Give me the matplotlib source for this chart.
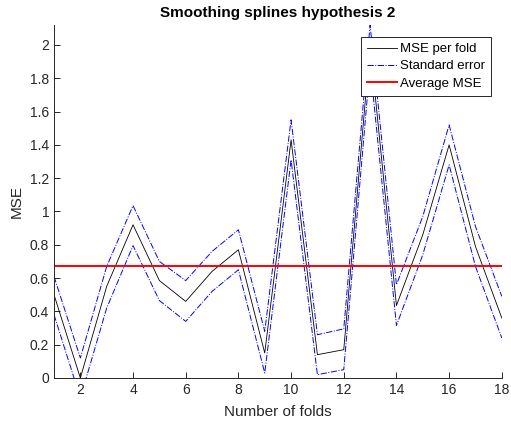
import numpy as np
import matplotlib
matplotlib.use("Agg")
import matplotlib.pyplot as plt

plt.rcParams['font.family'] = ['Liberation Sans', 'DejaVu Sans']

# Values
folds = np.arange(1, 19)
mse = [0.50, 0.00, 0.55, 0.92, 0.585, 0.46, 0.64, 0.77, 0.15,
       1.43, 0.14, 0.17, 2.00, 0.435, 0.86, 1.40, 0.79, 0.36]
upper = [0.61, 0.12, 0.67, 1.035, 0.70, 0.585, 0.76, 0.89, 0.28,
         1.55, 0.26, 0.295, 2.12, 0.56, 0.97, 1.52, 0.91, 0.49]
lower = [0.38, -0.12, 0.42, 0.795, 0.465, 0.34, 0.52, 0.65, 0.03,
         1.31, 0.02, 0.05, 1.88, 0.315, 0.74, 1.28, 0.67, 0.24]
avg_mse = 0.675

xticks = list(range(2, 19, 2))
yticks = [0, 0.2, 0.4, 0.6, 0.8, 1, 1.2, 1.4, 1.6, 1.8, 2]
ytick_labels = ["0", "0.2", "0.4", "0.6", "0.8", "1", "1.2", "1.4", "1.6", "1.8", "2"]

fig = plt.figure(figsize=(5.11, 4.23), dpi=100)
ax = fig.add_axes([0.1057, 0.1064, 0.8763, 0.8346])

ax.plot(folds, mse, color="black", linewidth=0.6, label="MSE per fold")
ax.plot(folds, upper, color="blue", linestyle="-.", linewidth=0.7, label="Standard error")
ax.plot(folds, lower, color="blue", linestyle="-.", linewidth=0.7)
ax.axhline(avg_mse, color="red", linewidth=1.4, label="Average MSE")

ax.set_xlim(1, 18)
ax.set_ylim(0, 2.12)
ax.set_xticks(xticks)
ax.set_yticks(yticks)
ax.set_yticklabels(ytick_labels)

grey = (0.15, 0.15, 0.15)
for side in ["top", "right"]:
    ax.spines[side].set_visible(False)
for side in ["left", "bottom"]:
    ax.spines[side].set_color(grey)
    ax.spines[side].set_linewidth(0.7)
ax.tick_params(direction="in", colors=grey, labelsize=10, length=4, width=0.7)

ax.set_title("Smoothing splines hypothesis 2", fontsize=11, fontweight="bold", color="black")
ax.set_xlabel("Number of folds", fontsize=11, color=grey, labelpad=6)
ax.set_ylabel("MSE", fontsize=11, color=grey)

leg = ax.legend(loc="upper right", bbox_to_anchor=(0.975, 0.966), fontsize=9.5,
                fancybox=False, framealpha=1, edgecolor=grey, borderpad=0.45,
                labelspacing=0.38, handlelength=2.3, handletextpad=0.2,
                borderaxespad=0)
leg.get_frame().set_linewidth(0.7)

fig.savefig("out.png", dpi=100)
